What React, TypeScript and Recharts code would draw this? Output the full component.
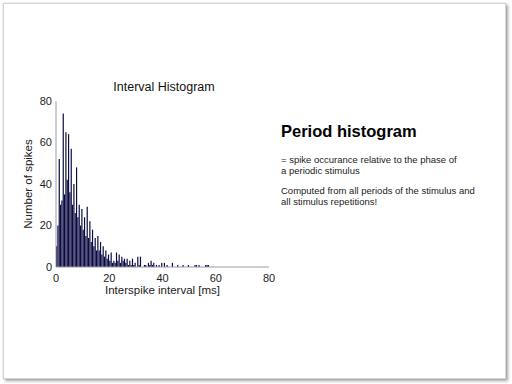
import React from 'react';
import { BarChart, Bar, XAxis, YAxis } from 'recharts';

// histogram of interspike intervals, 0.5 ms bins starting at 0
const BIN_WIDTH = 0.5;
const spikeCounts = [
  10, 20, 52, 30, 32, 74, 35, 65, 42, 64,
  36, 57, 30, 40, 26, 48, 24, 30, 20, 28,
  18, 24, 15, 29, 14, 22, 12, 18, 10, 14,
  8, 15, 8, 12, 6, 10, 5, 8, 4, 6,
  3, 7, 2, 3, 2, 7, 3, 6, 2, 5,
  3, 4, 2, 4, 1, 3, 1, 4, 1, 2,
  0, 5, 1, 5, 0, 0, 1, 1, 0, 2,
  1, 3, 1, 2, 0, 1, 0, 1, 0, 2,
  0, 2, 0, 1, 0, 0, 0, 2, 0, 0,
  0, 1, 0, 0, 0, 1, 0, 0, 0, 1,
  0, 0, 0, 0, 1, 1, 0, 1, 0, 0,
  0, 0, 1, 1, 1, 0,
];
const xTicks = [0, 20, 40, 60, 80];
const yTicks = [0, 20, 40, 60, 80];

const chartTitle = 'Interval Histogram';
const xLabel = 'Interspike interval [ms]';
const yLabel = 'Number of spikes';

const slideHeading = 'Period histogram';
const slideParagraphs = [
  ['= spike occurance relative to the phase of', 'a periodic stimulus'],
  ['Computed from all periods of the stimulus and', 'all stimulus repetitions!'],
];

const data = spikeCounts.map((count, i) => ({
  interval: i * BIN_WIDTH + BIN_WIDTH / 2,
  count,
}));

const font = '"Liberation Sans", Arial, sans-serif';
const axisColor = '#9a9aae';
const barColor = '#0b0b42';
const tickStyle = { fill: '#222', fontSize: 11, fontFamily: font };

export default function App() {
  return (
    <div style={{ position: 'absolute', left: 0, top: 0, width: 512, height: 384, background: '#fff', fontFamily: font }}>
      {/* slide frame */}
      <div
        style={{
          position: 'absolute',
          left: 3,
          top: 3,
          width: 503,
          height: 376,
          boxSizing: 'border-box',
          border: '1px solid #d4d4d4',
          boxShadow: '0 0 2px rgba(0,0,0,0.15), 2px 2px 3px rgba(0,0,0,0.35)',
          background: '#fff',
        }}
      />

      <div style={{ position: 'absolute', left: 0, top: 0 }}>
        <BarChart
          width={290}
          height={300}
          data={data}
          margin={{ top: 101, right: 21, bottom: 3, left: 0 }}
          barCategoryGap={0}
          barGap={0}
        >
          <XAxis
            type="number"
            dataKey="interval"
            domain={[0, 80]}
            ticks={xTicks}
            height={30}
            tickLine={false}
            tickSize={0}
            tickMargin={7}
            axisLine={{ stroke: axisColor }}
            tick={tickStyle}
            allowDataOverflow
          />
          <YAxis
            type="number"
            domain={[0, 80]}
            ticks={yTicks}
            width={56}
            tickLine={false}
            tickSize={0}
            tickMargin={4}
            axisLine={{ stroke: axisColor }}
            tick={tickStyle}
          />
          <Bar dataKey="count" fill={barColor} barSize={1.5} isAnimationActive={false} />
        </BarChart>
      </div>

      {/* chart title and axis titles */}
      <svg width={512} height={384} style={{ position: 'absolute', left: 0, top: 0, pointerEvents: 'none' }}>
        <text x={164} y={91} textAnchor="middle" fontSize={12.5} fill="#111" fontFamily={font}>
          {chartTitle}
        </text>
        <text x={162.5} y={293.5} textAnchor="middle" fontSize={11.5} fill="#222" fontFamily={font}>
          {xLabel}
        </text>
        <text transform="translate(32,184) rotate(-90)" textAnchor="middle" fontSize={11.5} fill="#222" fontFamily={font}>
          {yLabel}
        </text>
      </svg>

      {/* slide text */}
      <div
        style={{
          position: 'absolute',
          left: 281,
          top: 123,
          fontSize: 16.5,
          lineHeight: '16.5px',
          fontWeight: 'bold',
          color: '#000',
          whiteSpace: 'nowrap',
        }}
      >
        {slideHeading}
      </div>
      {slideParagraphs.map((lines, p) => (
        <div
          key={p}
          style={{
            position: 'absolute',
            left: 281,
            top: p === 0 ? 153.5 : 185.2,
            fontSize: 9.5,
            lineHeight: '11px',
            color: '#222',
            whiteSpace: 'nowrap',
          }}
        >
          {lines.map((l) => (
            <div key={l}>{l}</div>
          ))}
        </div>
      ))}
    </div>
  );
}
